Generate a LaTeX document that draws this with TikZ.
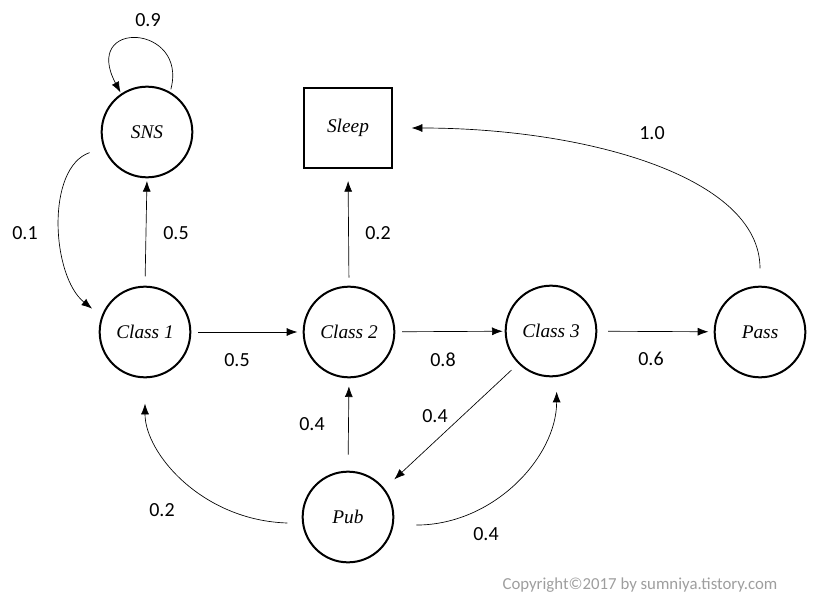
\documentclass[tikz,border=0pt]{standalone}
\usepackage{fontspec}
\setmainfont{Liberation Serif}
\newfontfamily\probfont{Carlito}
\usetikzlibrary{arrows.meta}
\tikzset{
  state/.style={draw, circle, line width=1.5pt, minimum size=68pt, inner sep=0pt,
    font=\fontsize{14.5}{17}\selectfont\itshape},
  final/.style={draw, rectangle, line width=1.5pt, minimum width=66pt, minimum height=60pt,
    inner sep=0pt, font=\fontsize{14.5}{17}\selectfont\itshape},
  trans/.style={-{Latex[length=8pt,width=6pt]}, line width=0.5pt, shorten <=5pt, shorten >=4pt},
  prob/.style={font=\probfont\fontsize{15}{18}\selectfont},
}
\begin{document}
\begin{tikzpicture}[x=0.75pt, y=0.75pt]
\useasboundingbox (0,0) rectangle (820,-606);

% Marking the states
\node[state] (sns) at (147,-132) {SNS};%
\node[final] (sleep) at (348,-128) {Sleep};%
\node[state] (c1) at (145,-332) {Class 1};%
\node[state] (c2) at (349,-332) {Class 2};%
\node[state] (c3) at (551,-331) {Class 3};%
\node[state] (pass) at (760,-332) {Pass};%
\node[state] (pub) at (348,-517) {Pub};%

% Drawing loop on SNS
\draw[trans, shorten <=2pt, shorten >=1pt] (sns.60) .. controls +(18,68) and +(-40,75) .. (sns.124);%

% Drawing SNS to Class 1
\draw[trans, shorten <=11pt, shorten >=9pt] (sns.200) .. controls +(-58,-20) and +(-50,40) .. (c1.160);%

% Drawing the upward arrows
\draw[trans, shorten <=7pt, shorten >=2pt] (c1.north) -- (sns.south);%
\draw[trans, shorten <=6pt, shorten >=9pt] (c2.north) -- (sleep.south);%
\draw[trans, shorten <=12pt, shorten >=6pt] (pub.north) -- (c2.south);%

% Drawing the classes in a row
\draw[trans] (c1) -- (c2);%
\draw[trans, shorten >=1.5pt] (c2) -- (c3);%
\draw[trans, shorten <=8pt] (c3) -- (pass);%

% Drawing Pass to Sleep
\draw[trans, shorten <=13pt, shorten >=14pt] (pass.north) .. controls +(0,110) and +(190,0) .. (sleep.east);%

% Drawing Class 3 to Pub
\draw[trans, shorten <=7pt, shorten >=10pt] (c3.225) -- (pub.38);%

% Drawing Pub to Class 1 and Class 3
\draw[trans, shorten <=11pt, shorten >=19pt] (pub.188) .. controls +(-100,3) and +(0,-75) .. (c1.south);%
\draw[trans, shorten <=17pt, shorten >=11pt] (pub.-10) .. controls +(100,0) and +(0,-80) .. (c3.-83);%

% Marking the probabilities
\node[prob] (p-sns-sns) at (148,-20) {0.9};%
\node[prob] (p-sns-c1) at (25,-233) {0.1};%
\node[prob] (p-c1-sns) at (176,-233) {0.5};%
\node[prob] (p-c2-sleep) at (378,-233) {0.2};%
\node[prob] (p-pass-sleep) at (652,-133) {1.0};%
\node[prob] (p-c1-c2) at (237,-360) {0.5};%
\node[prob] (p-c2-c3) at (443,-360) {0.8};%
\node[prob] (p-c3-pass) at (651,-359) {0.6};%
\node[prob] (p-pub-c2) at (312,-424) {0.4};%
\node[prob] (p-c3-pub) at (435,-416) {0.4};%
\node[prob] (p-pub-c1) at (162,-510) {0.2};%
\node[prob] (p-pub-c3) at (486,-534) {0.4};%

% Marking copyright
\node[font=\probfont\fontsize{12.6}{15}\selectfont, text=black!38] (copy) at (640,-585) {Copyright©2017 by sumniya.tistory.com};%
\end{tikzpicture}
\end{document}
